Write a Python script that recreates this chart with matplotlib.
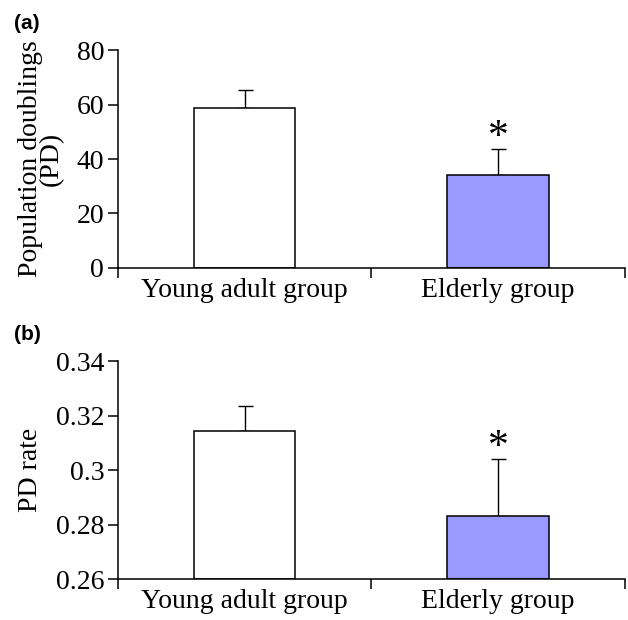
import matplotlib
matplotlib.use("Agg")
import matplotlib.pyplot as plt
import numpy as np

groups = ["Young adult group", "Elderly group"]
pd_means = [58.8, 34.3]
pd_err = [6.4, 9.5]
rate_means = [0.3146, 0.2832]
rate_err = [0.0091, 0.0211]
colors = ["white", "#9999ff"]

plt.rcParams['font.family'] = ['Liberation Serif', 'DejaVu Serif']

fig = plt.figure(figsize=(6.28, 6.2), dpi=100)
ax_a = fig.add_axes([0.188, 0.568, 0.807, 0.351])
ax_b = fig.add_axes([0.188, 0.066, 0.807, 0.351])


def panel(ax, means, err, ylim, yticks, ylabel, star_off, ticklabels):
    x = np.arange(len(groups)) + 0.5
    ax.bar(x, np.array(means) - ylim[0], width=0.4, bottom=ylim[0],
           color=colors, edgecolor="black", linewidth=1.1, zorder=2)
    ax.errorbar(x, means, yerr=[np.zeros(len(err)), err], fmt="none",
                ecolor="black", elinewidth=1.0, capsize=5.4, capthick=1.0,
                zorder=1)
    # significance star over the elderly group
    ax.text(x[1], means[1] + err[1] + star_off, "*", ha="center",
            va="center", fontsize=30)
    ax.set_xlim(0, 2)
    ax.set_ylim(*ylim)
    ax.set_yticks(yticks)
    ax.set_yticklabels(ticklabels)
    ax.set_xticks([0, 1, 2])
    ax.set_xticklabels([])
    ax.set_xticks(x, minor=True)
    ax.set_xticklabels(groups, minor=True)
    ax.tick_params(axis="x", which="minor", length=0, pad=7, labelsize=20)
    ax.tick_params(axis="x", which="major", length=7, width=1.1,
                   direction="out")
    ax.tick_params(axis="y", length=7, width=1.1, direction="out",
                   labelsize=20, pad=3)
    ax.spines["top"].set_visible(False)
    ax.spines["right"].set_visible(False)
    ax.spines["left"].set_linewidth(1.1)
    ax.spines["bottom"].set_linewidth(1.1)
    ax.set_ylabel(ylabel, fontsize=20, linespacing=0.8, labelpad=9)


panel(ax_a, pd_means, pd_err, (0, 80), [0, 20, 40, 60, 80],
      "Population doublings\n(PD)", 4.0, ["0", "20", "40", "60", "80"])
panel(ax_b, rate_means, rate_err, (0.26, 0.34),
      [0.26, 0.28, 0.30, 0.32, 0.34], "PD rate", 0.004,
      ["0.26", "0.28", "0.3", "0.32", "0.34"])

fig.text(0.022, 0.962, "(a)", fontsize=15, fontweight="bold",
         family=["Liberation Sans", "DejaVu Sans"], va="center")
fig.text(0.022, 0.461, "(b)", fontsize=15, fontweight="bold",
         family=["Liberation Sans", "DejaVu Sans"], va="center")

fig.savefig("out.png", dpi=100)
